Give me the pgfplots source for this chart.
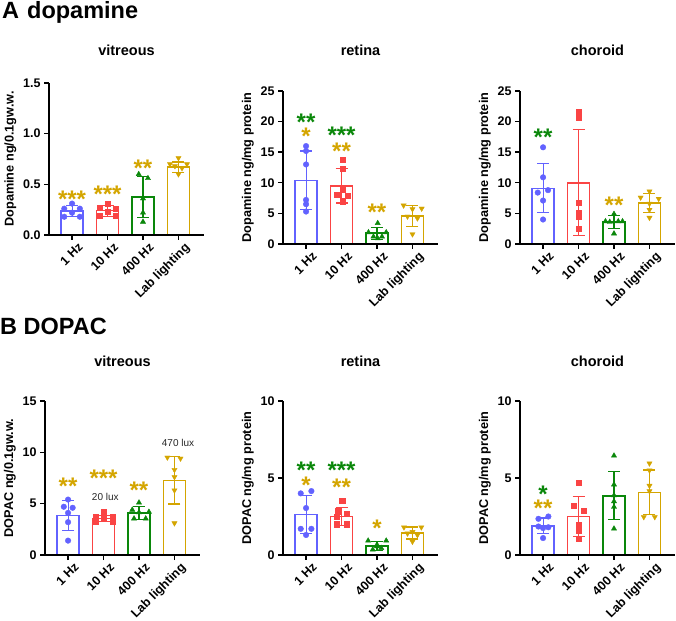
\documentclass[border=0pt]{standalone}
\usepackage{pgfplots}
\pgfplotsset{compat=1.18}
\usepackage{fontspec}
\setmainfont{Liberation Sans}
\definecolor{blueC}{RGB}{98,98,255}
\definecolor{redC}{RGB}{250,68,68}
\definecolor{greenC}{RGB}{10,135,10}
\definecolor{goldC}{RGB}{212,165,0}
\newcommand{\bargrp}[4]{%
\addplot[ybar, bar width=0.62, bar shift=0pt, draw=#1, fill=white, line width=1.6pt,
  error bars/.cd, y dir=both, y explicit,
  error bar style={#1, line width=1.1pt},
  error mark options={#1, rotate=90, mark size=6pt, line width=1.1pt}]
  coordinates {(#2,#3) +- (0,#4)};}
\newcommand{\stars}[4]{\node[anchor=base, text=#1, font=\bfseries\fontsize{24}{24}\selectfont, inner sep=0pt, yshift=-14pt] at (axis cs:#2,#3) {#4};}
\pgfplotsset{panel/.style={
  scale only axis, width=155pt,
  xmin=-0.65, xmax=3.72, ymin=0,
  axis x line*=bottom, axis y line*=left,
  axis line style={line width=1.6pt, -},
  tick align=outside, major tick length=5pt,
  tick style={line width=1.4pt, black},
  xtick={0,1,2,3}, xticklabels={1 Hz,10 Hz,400 Hz,Lab lighting},
  xticklabel style={rotate=45, anchor=north east, inner sep=0pt, xshift=2.5pt, yshift=-5pt, font=\bfseries\fontsize{12.5}{14}\selectfont},
  yticklabel style={font=\bfseries\fontsize{12.5}{14}\selectfont},
  /pgf/number format/assume math mode=true,
  ylabel style={font=\bfseries\fontsize{12.7}{14}\selectfont},
  title style={at={(0.5,1)}, anchor=base, font=\bfseries\fontsize{14.5}{16}\selectfont},
  clip=false, axis on top,
  anchor=south west,
}}
\begin{document}
\begin{tikzpicture}
\path[use as bounding box] (0,0) rectangle (676pt,620pt);
\node[anchor=base west, font=\bfseries\fontsize{23.5}{25}\selectfont, inner sep=0pt] at (2pt,601pt) {A\hspace{8pt}dopamine};
\node[anchor=base west, font=\bfseries\fontsize{23.5}{25}\selectfont, inner sep=0pt] at (0pt,285pt) {B DOPAC};
% ===== A vitreous
\begin{axis}[panel, at={(49pt,385pt)}, height=152pt, ymax=1.5, ytick={0,0.5,1,1.5},
  yticklabel style={/pgf/number format/.cd, fixed, fixed zerofill, precision=1},
  ylabel={Dopamine ng/0.1gw.w.}, title={vitreous}, title style={yshift=21pt}]
\bargrp{blueC}{0}{0.235}{0.055}
\bargrp{redC}{1}{0.24}{0.055}
\bargrp{greenC}{2}{0.374}{0.205}
\bargrp{goldC}{3}{0.67}{0.05}
\addplot[only marks, mark=*, mark size=2.8pt, blueC] coordinates {(0,0.31) (-0.22,0.26) (0.22,0.26) (0,0.22) (-0.22,0.18) (0.22,0.18)};
\addplot[only marks, mark=square*, mark size=2.6pt, redC] coordinates {(1,0.31) (0.78,0.27) (1.22,0.26) (1,0.23) (0.78,0.19) (1.22,0.19)};
\addplot[only marks, mark=triangle*, mark size=3pt, greenC] coordinates {(1.88,0.60) (2.14,0.56) (2,0.36) (2,0.22) (2,0.13)};
\addplot[only marks, mark=triangle*, mark options={rotate=180}, mark size=3pt, goldC] coordinates {(3,0.76) (2.76,0.70) (3.24,0.70) (2.9,0.68) (3.1,0.66) (3,0.60)};
\stars{goldC}{0}{0.41}{***}
\stars{goldC}{1}{0.46}{***}
\stars{goldC}{2}{0.72}{**}
\end{axis}
% ===== A retina
\begin{axis}[panel, at={(283pt,376pt)}, height=153pt, ymax=25, ytick={0,5,...,25},
  ylabel={Dopamine ng/mg protein}, title={retina}, title style={yshift=29pt}]
\bargrp{blueC}{0}{10.4}{4.8}
\bargrp{redC}{1}{9.5}{2.8}
\bargrp{greenC}{2}{1.75}{0.95}
\bargrp{goldC}{3}{4.6}{1.75}
\addplot[only marks, mark=*, mark size=2.8pt, blueC] coordinates {(0,16.0) (0,15.2) (0,13.0) (0,7.2) (0,6.5) (0,5.3)};
\addplot[only marks, mark=square*, mark size=2.6pt, redC] coordinates {(1.03,13.75) (1.03,12.3) (1.03,8.9) (0.88,8.0) (1.17,7.9) (1.03,7.0)};
\addplot[only marks, mark=triangle*, mark size=3pt, greenC] coordinates {(2.02,3.4) (1.76,1.9) (2.26,1.9) (1.9,1.2) (2.14,1.2) (2.02,0.9)};
\addplot[only marks, mark=triangle*, mark options={rotate=180}, mark size=3pt, goldC] coordinates {(2.75,6.3) (3.26,5.8) (3.0,5.7) (2.86,4.5) (3.14,4.2) (3.0,1.6)};
\stars{greenC}{0}{20.9}{**}
\stars{goldC}{0}{18.5}{*}
\stars{greenC}{1}{18.7}{***}
\stars{goldC}{1}{16.1}{**}
\stars{goldC}{2}{6.1}{**}
\end{axis}
% ===== A choroid
\begin{axis}[panel, at={(520pt,376pt)}, height=153pt, ymax=25, ytick={0,5,...,25},
  ylabel={Dopamine ng/mg protein}, title={choroid}, title style={yshift=29pt}]
\bargrp{blueC}{0}{9.1}{4.0}
\bargrp{redC}{1}{10.0}{8.65}
\bargrp{greenC}{2}{3.6}{1.1}
\bargrp{goldC}{3}{6.7}{1.6}
\addplot[only marks, mark=*, mark size=2.8pt, blueC] coordinates {(0,15.8) (0,10.9) (-0.15,8.4) (0.14,8.8) (0,7.1) (0,4.0)};
\addplot[only marks, mark=square*, mark size=2.6pt, redC] coordinates {(1,21.6) (1,20.6) (1,6.7) (1,5.1) (1,4.4) (1,2.5)};
\addplot[only marks, mark=triangle*, mark size=3pt, greenC] coordinates {(2,4.9) (1.76,3.7) (2.24,3.7) (1.88,3.6) (2.12,3.7) (2,1.7)};
\addplot[only marks, mark=triangle*, mark options={rotate=180}, mark size=3pt, goldC] coordinates {(3,8.6) (2.75,7.6) (3.26,7.4) (3,6.6) (3,5.6) (3,4.3)};
\stars{greenC}{0}{18.3}{**}
\stars{goldC}{2}{7.2}{**}
\end{axis}
% ===== B vitreous
\begin{axis}[panel, at={(45pt,65pt)}, height=154pt, ymax=15, ytick={0,5,10,15},
  ylabel={DOPAC ng/0.1gw.w.}, title={vitreous}, title style={yshift=28pt}]
\bargrp{blueC}{0}{3.85}{1.45}
\bargrp{redC}{1}{3.55}{0.33}
\bargrp{greenC}{2}{4.1}{0.6}
\bargrp{goldC}{3}{7.27}{2.3}
\addplot[only marks, mark=*, mark size=2.8pt, blueC] coordinates {(0,5.4) (-0.12,4.7) (0.13,4.6) (0,4.1) (0,3.2) (0,1.4)};
\addplot[only marks, mark=square*, mark size=2.6pt, redC] coordinates {(1,4.2) (0.78,3.75) (1.25,3.75) (1,3.55) (0.78,3.25) (1.25,3.25)};
\addplot[only marks, mark=triangle*, mark size=3pt, greenC] coordinates {(2,5.1) (1.81,4.4) (2.28,4.2) (2,4.15) (1.86,3.55) (2.19,3.55)};
\addplot[only marks, mark=triangle*, mark options={rotate=180}, mark size=3pt, goldC] coordinates {(2.8,9.5) (3.17,9.4) (3,8.3) (3,7.6) (3,6.3) (3,3.1)};
\stars{goldC}{0}{7.3}{**}
\stars{goldC}{1}{8.0}{***}
\stars{goldC}{2}{6.9}{**}
\node[font=\fontsize{10}{12}\selectfont, text=black!85] at (axis cs:1.05,5.7) {20 lux};
\node[font=\fontsize{10}{12}\selectfont, text=black!85] at (axis cs:3.1,10.9) {470 lux};
\end{axis}
% ===== B retina
\begin{axis}[panel, at={(283pt,65pt)}, height=154pt, ymax=10, ytick={0,5,10},
  ylabel={DOPAC ng/mg protein}, title={retina}, title style={yshift=28pt}]
\bargrp{blueC}{0}{2.62}{1.25}
\bargrp{redC}{1}{2.5}{0.6}
\bargrp{greenC}{2}{0.6}{0.3}
\bargrp{goldC}{3}{1.43}{0.39}
\addplot[only marks, mark=*, mark size=2.8pt, blueC] coordinates {(-0.15,4.0) (0.15,4.15) (0,3.05) (-0.15,1.7) (0.15,1.7) (0,1.3)};
\addplot[only marks, mark=square*, mark size=2.6pt, redC] coordinates {(1.02,3.5) (0.9,2.85) (1.14,2.7) (0.86,2.5) (0.86,2.0) (1.14,2.0)};
\addplot[only marks, mark=triangle*, mark size=3pt, greenC] coordinates {(1.75,0.93) (2.26,0.93) (2,0.67) (2,0.56) (2.12,0.45) (1.88,0.35)};
\addplot[only marks, mark=triangle*, mark options={rotate=180}, mark size=3pt, goldC] coordinates {(2.76,1.8) (3.25,1.8) (3,1.5) (2.86,1.4) (3.14,1.3) (3,0.87)};
\stars{greenC}{0}{5.87}{**}
\stars{goldC}{0}{4.9}{*}
\stars{greenC}{1}{5.87}{***}
\stars{goldC}{1}{4.75}{**}
\stars{goldC}{2}{2.1}{*}
\end{axis}
% ===== B choroid
\begin{axis}[panel, at={(520pt,65pt)}, height=154pt, ymax=10, ytick={0,5,10},
  ylabel={DOPAC ng/mg protein}, title={choroid}, title style={yshift=28pt}]
\bargrp{blueC}{0}{1.9}{0.5}
\bargrp{redC}{1}{2.5}{1.3}
\bargrp{greenC}{2}{3.85}{1.55}
\bargrp{goldC}{3}{4.07}{1.45}
\addplot[only marks, mark=*, mark size=2.8pt, blueC] coordinates {(-0.13,2.35) (0.15,2.5) (-0.13,1.85) (0,1.75) (0.15,1.8) (0,1.1)};
\addplot[only marks, mark=square*, mark size=2.6pt, redC] coordinates {(1,4.68) (0.87,3.2) (1.14,2.9) (1,1.93) (1,1.58) (1,1.06)};
\addplot[only marks, mark=triangle*, mark size=3pt, greenC] coordinates {(2,6.45) (2,4.57) (2,3.87) (2,3.48) (2,3.12) (2,1.71)};
\addplot[only marks, mark=triangle*, mark options={rotate=180}, mark size=3pt, goldC] coordinates {(3,5.95) (3,5.5) (3,4.5) (3,4.15) (2.84,2.47) (3.15,2.47)};
\stars{greenC}{0}{4.35}{*}
\stars{goldC}{0}{3.38}{**}
\end{axis}
\end{tikzpicture}
\end{document}
